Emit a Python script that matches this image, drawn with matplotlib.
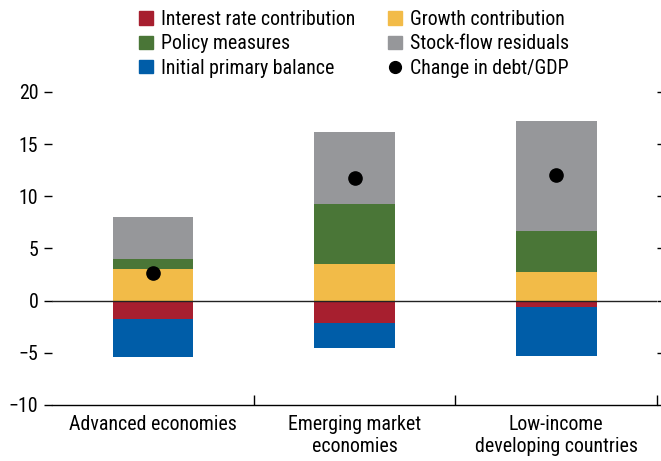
import matplotlib
matplotlib.use("Agg")
import matplotlib.pyplot as plt
import numpy as np
from matplotlib.patches import Patch
from matplotlib.lines import Line2D

plt.rcParams["font.family"] = ["Roboto Condensed", "DejaVu Sans"]

groups = ["Advanced economies", "Emerging market\neconomies", "Low-income\ndeveloping countries"]
growth = [3.0, 3.55, 2.7]
policy = [1.0, 5.75, 4.0]
residuals = [4.05, 6.9, 10.55]
interest = [-1.8, -2.1, -0.6]
primary = [-3.6, -2.4, -4.75]
change = [2.65, 11.8, 12.0]

c_interest = "#A71F2F"
c_growth = "#F2BB48"
c_policy = "#4A7637"
c_resid = "#96979A"
c_primary = "#005DA8"

fs = 14.3

fig = plt.figure(figsize=(6.61, 4.61), dpi=100)
ax = fig.add_axes([0.079, 0.1215, 0.915, 0.679])

x = np.arange(len(groups))
w = 0.4
pos_bottom = np.zeros(len(groups))
for vals, col in [(growth, c_growth), (policy, c_policy), (residuals, c_resid)]:
    ax.bar(x, vals, w, bottom=pos_bottom, color=col, linewidth=0)
    pos_bottom += np.array(vals)
neg_bottom = np.zeros(len(groups))
for vals, col in [(interest, c_interest), (primary, c_primary)]:
    ax.bar(x, vals, w, bottom=neg_bottom, color=col, linewidth=0)
    neg_bottom += np.array(vals)

ax.plot(x, change, "o", color="black", markersize=9.5, zorder=5)
ax.axhline(0, color="#222222", lw=1.0, zorder=4)

ax.set_xlim(-0.5, 2.5)
ax.set_ylim(-10, 20)
ax.set_yticks(range(-10, 21, 5))
ax.set_xticks(x)
ax.set_xticklabels(groups, fontsize=fs, linespacing=1.2)
ax.set_xticks([0.5, 1.5, 2.5], minor=True)
ax.tick_params(axis="x", which="major", length=0, pad=7)
ax.tick_params(axis="x", which="minor", direction="in", length=7, width=1)
ax.tick_params(axis="y", labelsize=fs, length=6, width=1, right=True, direction="out", pad=4)

for s in ["top", "left", "right"]:
    ax.spines[s].set_visible(False)
ax.spines["bottom"].set_linewidth(1.0)

handles = [
    Patch(color=c_interest, label="Interest rate contribution"),
    Patch(color=c_policy, label="Policy measures"),
    Patch(color=c_primary, label="Initial primary balance"),
    Patch(color=c_growth, label="Growth contribution"),
    Patch(color=c_resid, label="Stock-flow residuals"),
    Line2D([], [], marker="o", color="black", linestyle="none", markersize=8.5, label="Change in debt/GDP"),
]
fig.legend(handles=handles, ncol=2, loc="upper left", bbox_to_anchor=(0.19, 1.008),
           frameon=False, fontsize=fs, handlelength=0.68, handleheight=0.68,
           handletextpad=0.4, columnspacing=1.66, labelspacing=0.26, borderpad=0.2)

fig.savefig("out.png", dpi=100)
